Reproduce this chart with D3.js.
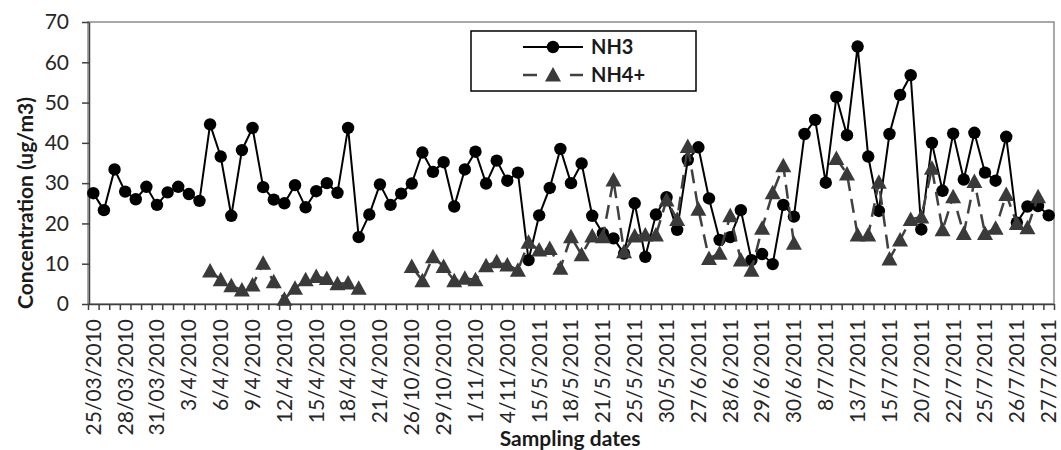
<!DOCTYPE html>
<html lang="en">
<head>
    <meta charset="UTF-8">
    <title>NH3 / NH4+ concentrations</title>
    <script src="https://d3js.org/d3.v7.min.js"></script>
    <style>
        body {
            margin: 0;
            background-color: #fff;
            font-family: Lato, "Open Sans", sans-serif;
        }
        .axis text {
            font-family: Lato, sans-serif;
            font-size: 21px;
            fill: #262626;
        }
        .axis path, .axis line {
            stroke: #404040;
            stroke-width: 1.5px;
        }
        .title {
            font-weight: bold;
            font-size: 21px;
            fill: #1a1a1a;
        }
    </style>
</head>
<body>
    <div id="chart"></div>

    <script>
        // one label every third sampling date
        const tickLabels = ["25/03/2010", "28/03/2010", "31/03/2010", "3/4/2010", "6/4/2010", "9/4/2010",
            "12/4/2010", "15/4/2010", "18/4/2010", "21/4/2010", "26/10/2010", "29/10/2010", "1/11/2010",
            "4/11/2010", "15/5/2011", "18/5/2011", "21/5/2011", "25/5/2011", "30/5/2011", "27/6/2011",
            "28/6/2011", "29/6/2011", "30/6/2011", "8/7/2011", "13/7/2011", "15/7/2011", "20/7/2011",
            "22/7/2011", "25/7/2011", "26/7/2011", "27/7/2011"];

        const nh3 = [27.5, 23.3, 33.4, 27.9, 26.0, 29.1, 24.6, 27.7, 29.1, 27.3,
            25.6, 44.6, 36.6, 21.9, 38.2, 43.7, 29.0, 25.9, 25.0, 29.5,
            24.0, 28.0, 30.0, 27.6, 43.7, 16.6, 22.2, 29.7, 24.6, 27.4,
            29.9, 37.6, 32.8, 35.2, 24.2, 33.4, 37.8, 29.9, 35.6, 30.6,
            32.6, 10.9, 22.0, 28.8, 38.5, 30.0, 34.9, 21.9, 17.5, 16.3,
            12.5, 25.0, 11.7, 22.2, 26.5, 18.4, 35.8, 38.9, 26.2, 15.9,
            16.6, 23.3, 10.9, 12.4, 9.9, 24.6, 21.7, 42.2, 45.7, 30.1,
            51.4, 41.9, 63.9, 36.6, 23.1, 42.2, 51.9, 56.8, 18.5, 40.0,
            28.1, 42.3, 30.9, 42.5, 32.6, 30.6, 41.5, 20.2, 24.2, 24.3,
            22.0];

        const nh4 = [null, null, null, null, null, null, null, null, null, null,
            null, 8.2, 6.0, 4.5, 3.5, 4.7, 10.1, 5.5, 1.2, 3.9,
            6.0, 6.8, 6.3, 5.0, 5.2, 3.9, null, null, null, null,
            9.3, 5.8, 11.7, 9.3, 5.8, 6.4, 6.0, 9.5, 10.5, 9.7,
            8.4, 15.3, 13.4, 13.8, 8.9, 16.7, 12.2, 16.9, 16.7, 30.8,
            13.0, 16.9, 17.1, 17.1, 25.8, 21.0, 39.1, 23.5, 11.3, 12.6,
            21.9, 10.9, 8.4, 18.8, 27.6, 34.3, 15.1, null, null, null,
            36.1, 32.3, 17.1, 17.1, 30.2, 11.2, 15.9, 21.0, 21.6, 33.7,
            18.4, 26.6, 17.5, 30.4, 17.5, 18.8, 27.2, 20.0, 18.9, 26.6,
            null];

        const yTicks = [0, 10, 20, 30, 40, 50, 60, 70];

        const width = 1061;
        const height = 450;
        const margin = { top: 22, right: 7, bottom: 146, left: 88 };
        const n = nh3.length;

        const svg = d3.select("#chart")
            .append("svg")
            .attr("width", width)
            .attr("height", height);

        // boundaries between categories sit on integers, centres on i + 0.5
        const x = d3.scaleLinear().domain([0, n]).range([margin.left, width - margin.right]);
        const y = d3.scaleLinear().domain([0, 70]).range([height - margin.bottom, margin.top]);
        const cx = i => x(i + 0.5);

        // plot area outline (top / right in grey)
        svg.append("rect")
            .attr("x", x(0))
            .attr("y", y(70))
            .attr("width", x(n) - x(0))
            .attr("height", y(0) - y(70))
            .attr("fill", "none")
            .attr("stroke", "#8c8c8c")
            .attr("stroke-width", 1.5);

        svg.append("g")
            .attr("class", "axis")
            .attr("transform", `translate(${x(0) + 1},0)`)
            .call(d3.axisLeft(y).tickValues(yTicks).tickSize(7).tickPadding(13).tickSizeOuter(0));

        svg.append("g")
            .attr("class", "axis")
            .attr("transform", `translate(0,${y(0)})`)
            .call(d3.axisBottom(x).tickValues(d3.range(n + 1)).tickFormat("").tickSize(6).tickSizeOuter(0));

        svg.append("g")
            .selectAll("text")
            .data(tickLabels)
            .enter().append("text")
            .attr("transform", (d, k) => `translate(${cx(k * 3)},${y(0) + 15}) rotate(-90)`)
            .attr("dy", "0.35em")
            .style("text-anchor", "end")
            .style("font-size", "21px")
            .style("fill", "#262626")
            .text(d => d);

        // NH3 series
        const line = d3.line()
            .defined(d => d != null)
            .x((d, i) => cx(i))
            .y(d => y(d));

        svg.append("path")
            .datum(nh3)
            .attr("d", line)
            .attr("fill", "none")
            .attr("stroke", "#000")
            .attr("stroke-width", 2);

        svg.append("g")
            .selectAll("circle")
            .data(nh3)
            .enter().append("circle")
            .attr("cx", (d, i) => cx(i))
            .attr("cy", d => y(d))
            .attr("r", 6.2)
            .attr("fill", "#000");

        // NH4+ series
        const tri = "M0,-8L8,6.5L-8,6.5Z";

        svg.append("path")
            .datum(nh4)
            .attr("d", line)
            .attr("fill", "none")
            .attr("stroke", "#404040")
            .attr("stroke-width", 2.5)
            .attr("stroke-dasharray", "14,8");

        svg.append("g")
            .selectAll("path")
            .data(nh4.map((v, i) => ({ v, i })).filter(d => d.v != null))
            .enter().append("path")
            .attr("d", tri)
            .attr("transform", d => `translate(${cx(d.i)},${y(d.v)})`)
            .attr("fill", "#3a3a3a");

        // axis titles
        svg.append("text")
            .attr("class", "title")
            .attr("transform", `translate(33,203) rotate(-90)`)
            .style("text-anchor", "middle")
            .text("Concentration (ug/m3)");

        svg.append("text")
            .attr("class", "title")
            .attr("x", 570)
            .attr("y", 446)
            .style("text-anchor", "middle")
            .text("Sampling dates");

        // legend
        const legend = svg.append("g");
        legend.append("rect")
            .attr("x", 471).attr("y", 31)
            .attr("width", 225).attr("height", 60)
            .attr("fill", "#fff")
            .attr("stroke", "#000")
            .attr("stroke-width", 1.5);

        legend.append("line")
            .attr("x1", 523).attr("x2", 583).attr("y1", 47).attr("y2", 47)
            .attr("stroke", "#000").attr("stroke-width", 2);
        legend.append("circle")
            .attr("cx", 553).attr("cy", 47).attr("r", 6.2).attr("fill", "#000");
        legend.append("text")
            .attr("x", 591).attr("y", 47).attr("dy", "0.35em")
            .attr("class", "title").style("font-size", "20px")
            .text("NH3");

        legend.append("line")
            .attr("x1", 523).attr("x2", 583).attr("y1", 75).attr("y2", 75)
            .attr("stroke", "#404040").attr("stroke-width", 2.5)
            .attr("stroke-dasharray", "14,33,14");
        legend.append("path")
            .attr("d", tri)
            .attr("transform", "translate(553,75)")
            .attr("fill", "#3a3a3a");
        legend.append("text")
            .attr("x", 591).attr("y", 75).attr("dy", "0.35em")
            .attr("class", "title").style("font-size", "20px")
            .text("NH4+");
    </script>
</body>
</html>
